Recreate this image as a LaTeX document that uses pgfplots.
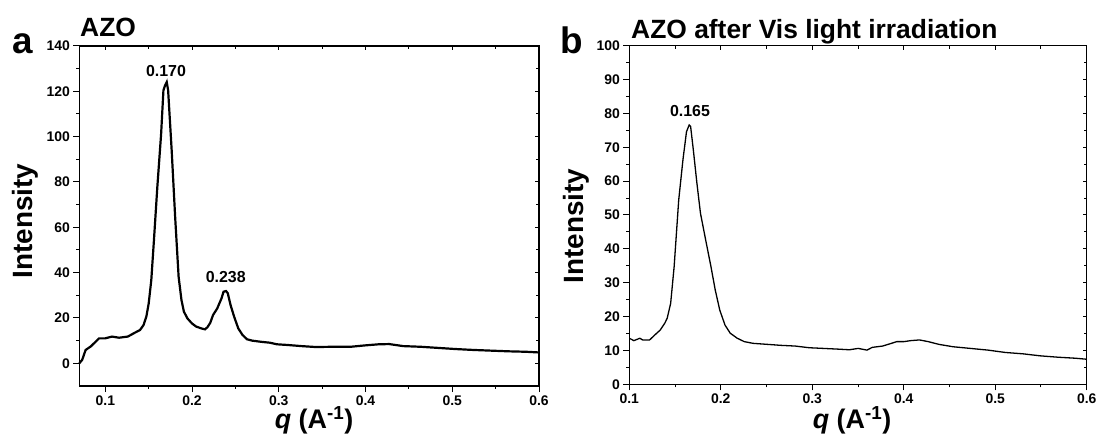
\documentclass[border=0pt]{standalone}
\usepackage{fontspec}
\setmainfont{Liberation Sans}
\usepackage{pgfplots}
\pgfplotsset{compat=1.18}

\pgfplotstableread{
q I
0.070 0.0
0.0733 1.5
0.0773 5.9
0.0834 7.5
0.0927 11.0
0.0996 11.0
0.1077 11.8
0.1158 11.3
0.1259 11.8
0.134 13.5
0.140 14.7
0.1441 16.9
0.1473 20.6
0.150 26.4
0.153 36.7
0.156 54.0
0.160 78.0
0.1643 101.0
0.167 120.5
0.169 122.7
0.1708 124.1
0.1724 120.5
0.1765 94.0
0.1805 64.6
0.1845 38.2
0.1878 27.9
0.1906 22.8
0.1947 19.8
0.1999 17.6
0.2048 16.2
0.2108 15.4
0.2149 15.0
0.2177 15.9
0.221 17.9
0.2242 21.3
0.229 24.2
0.2339 28.6
0.2363 31.6
0.2392 31.9
0.2412 30.9
0.2444 25.7
0.2485 20.6
0.2533 15.4
0.2582 12.5
0.2634 10.6
0.2695 10.0
0.2796 9.5
0.2897 9.1
0.2978 8.4
0.310 8.1
0.3261 7.6
0.3423 7.2
0.3625 7.3
0.3828 7.3
0.399 7.9
0.4151 8.4
0.4273 8.5
0.4434 7.6
0.4637 7.3
0.4839 6.8
0.5041 6.3
0.5244 5.9
0.5446 5.6
0.5648 5.3
0.585 5.1
0.600 4.8
}\azo

\pgfplotstableread{
q I
0.100 13.6
0.105 12.9
0.1088 13.3
0.1115 13.6
0.1146 13.1
0.1222 13.1
0.128 14.6
0.1337 16.0
0.1387 18.0
0.1414 19.5
0.1452 23.9
0.149 34.7
0.154 54.4
0.1586 66.2
0.1625 74.6
0.1655 76.6
0.167 76.2
0.170 69.2
0.1739 59.4
0.1778 50.5
0.1835 42.6
0.1893 34.7
0.1939 27.9
0.1989 21.9
0.2046 17.5
0.2103 15.1
0.218 13.6
0.2257 12.6
0.2352 12.1
0.2506 11.8
0.2659 11.5
0.2812 11.3
0.2966 10.8
0.3119 10.6
0.3272 10.4
0.3406 10.2
0.3502 10.6
0.3598 10.1
0.3655 10.9
0.377 11.3
0.3866 12.1
0.3923 12.6
0.400 12.6
0.4077 12.9
0.4172 13.1
0.4268 12.6
0.4383 11.8
0.4536 11.1
0.4728 10.6
0.492 10.1
0.5111 9.4
0.5303 9.0
0.5494 8.4
0.5686 8.0
0.5877 7.7
0.600 7.4
}\azovis

\pgfplotsset{
  panel/.style={
    scale only axis, anchor=south west, clip=false,
    axis line style={line width=1.2bp},
    every tick/.style={line width=1bp, black},
    tick align=outside,
    xtick pos=bottom, ytick pos=left,
    major tick length=6bp, minor tick length=3bp,
    minor x tick num=1, minor y tick num=1,
    xtick={0.1,0.2,0.3,0.4,0.5,0.6},
    xmax=0.6,
    ticklabel style={font=\fontsize{14}{14}\selectfont\bfseries},
    /pgf/number format/assume math mode=true,
    xticklabel style={/pgf/number format/fixed, /pgf/number format/precision=1},
  },
  ghost/.style={
    scale only axis, anchor=south west,
    axis line style={line width=1.2bp},
    every tick/.style={line width=1bp, black},
    tick align=inside,
    xtick pos=top, ytick pos=right,
    major tick length=4bp, minor tick length=3bp,
    minor x tick num=1, minor y tick num=1,
    xtick={0.1,0.2,0.3,0.4,0.5,0.6},
    xmax=0.6,
    xticklabels={}, yticklabels={},
  },
}

\begin{document}
\begin{tikzpicture}
\path[use as bounding box] (0,0) rectangle (1099bp,436bp);

% panel a
\begin{axis}[panel, at={(79.3bp,50bp)}, width=459.7bp, height=340bp,
    xmin=0.07, ymin=-10, ymax=140, ytick={0,20,...,140}]
\addplot[black, line width=2.2bp] table[x=q, y=I] {\azo};
\node[anchor=base, font=\fontsize{16}{16}\selectfont\bfseries] at (axis cs:0.170,126.5) {0.170};
\node[anchor=base, font=\fontsize{16}{16}\selectfont\bfseries] at (axis cs:0.2388,35.8) {0.238};
\end{axis}
\begin{axis}[ghost, at={(79.3bp,50bp)}, width=459.7bp, height=340bp,
    xmin=0.07, ymin=-10, ymax=140, ytick={0,20,...,140}]
\end{axis}

% panel b
\begin{axis}[panel, at={(629.3bp,51.7bp)}, width=457.4bp, height=338.6bp,
    xmin=0.1, ymin=0, ymax=100, ytick={0,10,...,100}]
\addplot[black, line width=1.3bp] table[x=q, y=I] {\azovis};
\node[anchor=base, font=\fontsize{16}{16}\selectfont\bfseries] at (axis cs:0.1663,79) {0.165};
\end{axis}
\begin{axis}[ghost, at={(629.3bp,51.7bp)}, width=457.4bp, height=338.6bp,
    xmin=0.1, ymin=0, ymax=100, ytick={0,10,...,100}]
\end{axis}

% panel letters and titles
\node[anchor=base west, inner sep=0, font=\fontsize{37}{37}\selectfont\bfseries] at (12.5bp,382.7bp) {a};
\node[anchor=base west, inner sep=0, font=\fontsize{37}{37}\selectfont\bfseries] at (560.5bp,382.7bp) {b};
\node[anchor=base west, inner sep=0, font=\fontsize{26.5}{26.5}\selectfont\bfseries] at (80bp,399bp) {AZO};
\node[anchor=base west, inner sep=0, font=\fontsize{26.5}{26.5}\selectfont\bfseries] at (631bp,397bp) {AZO after Vis light irradiation};

% axis labels
\node[anchor=base, rotate=90, inner sep=0, font=\fontsize{28}{28}\selectfont\bfseries] at (32bp,215bp) {Intensity};
\node[anchor=base, rotate=90, inner sep=0, font=\fontsize{28}{28}\selectfont\bfseries] at (583.5bp,210bp) {Intensity};
\node[anchor=base, inner sep=0, font=\fontsize{27}{27}\selectfont\bfseries] at (314bp,8bp) {\textit{q} (A\textsuperscript{-1})};
\node[anchor=base, inner sep=0, font=\fontsize{27}{27}\selectfont\bfseries] at (852bp,8bp) {\textit{q} (A\textsuperscript{-1})};
\end{tikzpicture}
\end{document}
